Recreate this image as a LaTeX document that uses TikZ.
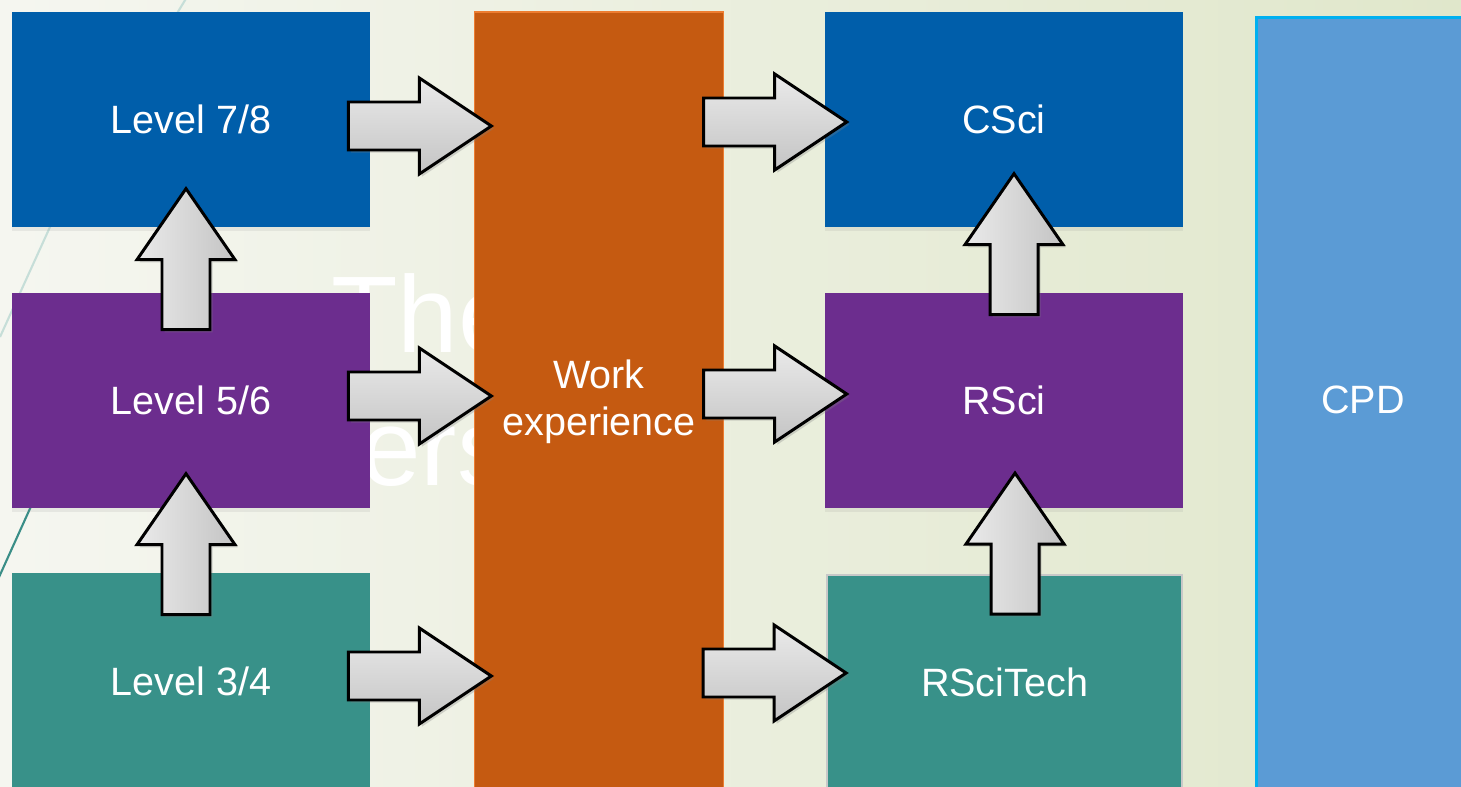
\documentclass[tikz,border=0pt]{standalone}
\usepackage{fontspec}
\setmainfont{Liberation Sans}
\usetikzlibrary{shadows,calc}
\definecolor{bgA}{HTML}{F5F6F0}
\definecolor{bgB}{HTML}{E0E7CB}
\definecolor{lvblue}{HTML}{005EAA}
\definecolor{lvpurple}{HTML}{6C2D8E}
\definecolor{lvteal}{HTML}{389189}
\definecolor{wkorange}{HTML}{C55A11}
\definecolor{wkborder}{HTML}{ED7D31}
\definecolor{cpdfill}{HTML}{5B9BD5}
\definecolor{cpdborder}{HTML}{00B0F0}
\definecolor{techborder}{HTML}{C8C8C8}
\definecolor{lineA}{HTML}{C6DED8}
\definecolor{lineB}{HTML}{3A8E87}
\definecolor{arrLight}{HTML}{EAEAEA}
\definecolor{arrDark}{HTML}{C4C4C4}
\begin{document}
\begin{tikzpicture}[x=0.02cm,y=-0.02cm,
  box/.style={rectangle, inner sep=0pt, minimum width=7.16cm, minimum height=4.3cm,
    text=white, font=\fontsize{22.5}{26.6}\selectfont, align=center},
  boxshadow/.style={drop shadow={opacity=0.12, shadow xshift=0pt, shadow yshift=-2.5pt}},
  ghost/.style={inner sep=0pt, text=white, font=\fontsize{62}{70}\selectfont},
  arrowbody/.style={draw=black, line width=1.7pt, line join=miter,
    top color=arrLight, bottom color=arrDark,
    drop shadow={opacity=0.3, shadow xshift=1.5pt, shadow yshift=-1.5pt}},
  arrowbodyv/.style={draw=black, line width=1.7pt, line join=miter,
    left color=arrLight, right color=arrDark,
    drop shadow={opacity=0.3, shadow xshift=1.5pt, shadow yshift=-1.5pt}},
  rarr/.pic={\path[arrowbody] (0,-24) -- (71,-24) -- (71,-48) -- (143,0) -- (71,48) -- (71,24) -- (0,24) -- cycle;},
  uarr/.pic={\path[arrowbodyv] (-24,0) -- (-24,-70) -- (-49,-70) -- (0,-141) -- (49,-70) -- (24,-70) -- (24,0) -- cycle;}
]
\useasboundingbox (0,0) rectangle (1461,787);
\clip (0,0) rectangle (1461,787);
% background
\path[left color=bgA, right color=bgB] (0,0) rectangle (1461,787);
% faint decorative lines
\draw[lineA, line width=1.2pt] (187,-3) -- (60,205) -- (0,337);
\draw[lineB, line width=1.2pt] (61,440) -- (-5,586);
% ghost title text
\node[ghost, anchor=base west] (gA) at (331,353) {The};
\node[ghost, anchor=base west] (gB) at (360,485) {ers};
% boxes
\node[box, boxshadow, fill=lvblue] (l78) at (191,119.5) {Level 7/8};
\node[box, boxshadow, fill=lvpurple] (l56) at (191,400.5) {Level 5/6};
\node[box, boxshadow, fill=lvteal, minimum height=4.34cm] (l34) at (191,681.5) {Level 3/4};
\node[box, fill=wkorange, draw=wkborder, line width=1.1pt, minimum width=4.98cm, minimum height=15.6cm] (work) at (599,402) {Work\\experience};
\node[box, boxshadow, fill=lvblue] (csci) at (1004,119.5) {CSci};
\node[box, boxshadow, fill=lvpurple] (rsci) at (1004,400.5) {RSci};
\node[box, fill=lvteal, draw=techborder, line width=1.1pt, minimum width=7.1cm, minimum height=4.3cm] (tech) at (1004.5,682.5) {RSciTech};
\node[box, fill=cpdfill, draw=cpdborder, line width=1.7pt, minimum width=4.28cm, minimum height=15.46cm,
  label={[text=white, font=\fontsize{22.5}{26.6}\selectfont, yshift=0.07cm]center:CPD}] (cpd) at (1363,403.5) {};
% right-pointing block arrows
\pic at ($(l78.east)+(-22,6.5)$) {rarr};
\pic at ($(l56.east)+(-22,-4.5)$) {rarr};
\pic at ($(l34.east)+(-22,-5.5)$) {rarr};
\pic at ($(csci.west)+(-121,2.5)$) {rarr};
\pic at ($(rsci.west)+(-121,-6.5)$) {rarr};
\pic at ($(tech.west)+(-123,-9.5)$) {rarr};
% upward block arrows
\pic at ($(l56.north)+(-5,37)$) {uarr};
\pic at ($(l34.north)+(-5,42)$) {uarr};
\pic at ($(rsci.north)+(10,22)$) {uarr};
\pic at ($(tech.north)+(10.5,40)$) {uarr};
\end{tikzpicture}
\end{document}
